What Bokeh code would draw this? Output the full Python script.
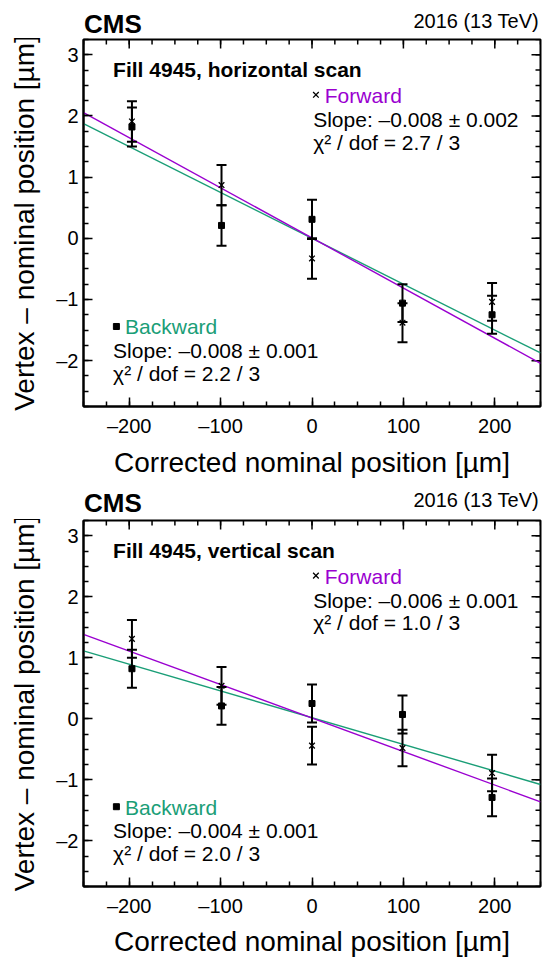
import numpy as np
from bokeh.plotting import figure
from bokeh.layouts import column
from bokeh.models import Label, Range1d, FixedTicker
from bokeh.embed import file_html
from bokeh.resources import INLINE

# ---------------- data ----------------
x_pos = [-197, -99, 0, 99, 197]
x_ticks = [-200, -100, 0, 100, 200]
x_tick_labels = ["–200", "–100", "0", "100", "200"]
y_ticks = [-2, -1, 0, 1, 2, 3]
y_tick_labels = ["–2", "–1", "0", "1", "2", "3"]

# horizontal scan
h_fwd = [1.91, 0.87, -0.33, -1.38, -1.04]
h_fwd_err = [0.33, 0.33, 0.33, 0.32, 0.31]
h_bwd = [1.82, 0.21, 0.31, -1.06, -1.25]
h_bwd_err = [0.32, 0.33, 0.32, 0.31, 0.31]
h_fit_fwd = [-0.0082, 0.006]   # slope, intercept
h_fit_bwd = [-0.0075, 0.0]

# vertical scan
v_fwd = [1.31, 0.54, -0.44, -0.48, -0.89]
v_fwd_err = [0.31, 0.31, 0.31, 0.30, 0.30]
v_bwd = [0.82, 0.21, 0.25, 0.07, -1.29]
v_bwd_err = [0.31, 0.31, 0.31, 0.31, 0.31]
v_fit_fwd = [-0.00549, 0.011]
v_fit_bwd = [-0.00438, 0.017]

h_texts = ["Fill 4945, horizontal scan", "Slope: –0.008 ± 0.002", "χ² / dof = 2.7 / 3",
           "Slope: –0.008 ± 0.001", "χ² / dof = 2.2 / 3"]
v_texts = ["Fill 4945, vertical scan", "Slope: –0.006 ± 0.001", "χ² / dof = 1.0 / 3",
           "Slope: –0.004 ± 0.001", "χ² / dof = 2.0 / 3"]
header_texts = ["CMS", "2016 (13 TeV)"]

FONT = "Liberation Sans"
PURPLE = "#9a00d0"
GREEN = "#1a9e77"
X0, X1 = -250, 250
Y0, Y1 = -2.75, 3.25
W = 542
PX_PER_Y = 61.6   # frame pixels per y unit (370 px / 6 units)


def add_text(p, x, y, text, size=21, color="black", bold=False, align="left", scale=PX_PER_Y):
    # y is the intended baseline; the text is drawn centred, so lift by ~0.35 em
    yc = y + 0.35 * size / scale
    p.add_layout(Label(x=x, y=yc, text=text, text_font=FONT, text_font_size=f"{size}px",
                       text_color=color, text_font_style="bold" if bold else "normal",
                       text_align=align, text_baseline="alphabetic"))


def errbars(p, x, y, e):
    x = np.array(x, dtype=float)
    y = np.array(y, dtype=float)
    e = np.array(e, dtype=float)
    p.segment(x0=x, y0=y - e, x1=x, y1=y + e, line_color="black", line_width=2)
    p.scatter(x=np.concatenate([x, x]), y=np.concatenate([y - e, y + e]), marker="dash",
              size=10, line_color="black", line_width=2)


def make_header(height, cms_base, energy_base):
    # the column aligns this frame with the panel frames below, so share the x range
    h = figure(width=W, height=height, x_range=Range1d(X0, X1), y_range=Range1d(0, height),
               title=None, output_backend="svg", toolbar_location=None,
               x_axis_location=None, y_axis_location=None,
               min_border=0, min_border_left=83, min_border_right=2,
               min_border_top=0, min_border_bottom=0)
    h.grid.visible = False
    h.outline_line_color = None
    add_text(h, X0 + 0.6, cms_base, header_texts[0], size=26, bold=True, scale=1.0)
    add_text(h, X1 - 1.6, energy_base, header_texts[1], size=20, align="right", scale=1.0)
    return h


def make_panel(texts, fwd, fwd_err, bwd, bwd_err, fit_fwd, fit_bwd, height, bottom, title_standoff):
    p = figure(width=W, height=height, x_range=Range1d(X0, X1), y_range=Range1d(Y0, Y1),
               title=None, output_backend="svg", toolbar_location=None,
               min_border_left=83, min_border_right=2, min_border_top=1, min_border_bottom=bottom,
               x_axis_label="Corrected nominal position [µm]",
               y_axis_label="Vertex – nominal position [µm]")
    p.grid.visible = False
    p.outline_line_color = "black"
    p.outline_line_width = 2
    p.background_fill_color = "white"
    p.border_fill_color = "white"

    x_minor = list(np.arange(-250, 251, 25))
    y_minor = list(np.arange(-2.75, 3.26, 0.25))
    p.xaxis.ticker = FixedTicker(ticks=x_ticks, minor_ticks=x_minor)
    p.xaxis.major_label_overrides = dict(zip(x_ticks, x_tick_labels))
    p.yaxis.ticker = FixedTicker(ticks=y_ticks, minor_ticks=y_minor)
    p.yaxis.major_label_overrides = dict(zip(y_ticks, y_tick_labels))
    for ax in p.axis:
        ax.major_tick_in = 9
        ax.major_tick_out = 0
        ax.minor_tick_in = 5
        ax.minor_tick_out = 0
        ax.axis_line_width = 2
        ax.major_tick_line_width = 1.5
        ax.minor_tick_line_width = 1.5
        ax.major_label_text_font = FONT
        ax.major_label_text_font_size = "20px"
        ax.major_label_text_color = "black"
        ax.axis_label_text_font = FONT
        ax.axis_label_text_font_size = "28px"
        ax.axis_label_text_font_style = "normal"
        ax.axis_label_text_color = "black"
    p.xaxis.major_label_standoff = 8
    p.xaxis.axis_label_standoff = title_standoff
    p.yaxis.major_label_standoff = 5
    p.yaxis.axis_label_standoff = 13

    # mirrored ticks on the top and right frame edges (half of each dash is clipped by the frame)
    p.scatter(x=x_ticks, y=[Y1] * len(x_ticks), marker="dash", angle=np.pi / 2, size=18,
              line_color="black", line_width=1.5)
    p.scatter(x=x_minor, y=[Y1] * len(x_minor), marker="dash", angle=np.pi / 2, size=10,
              line_color="black", line_width=1.5)
    p.scatter(x=[X1] * len(y_ticks), y=y_ticks, marker="dash", size=18,
              line_color="black", line_width=1.5)
    p.scatter(x=[X1] * len(y_minor), y=y_minor, marker="dash", size=10,
              line_color="black", line_width=1.5)

    # fit lines
    lx = np.array([X0, X1], dtype=float)
    p.line(lx, fit_bwd[0] * lx + fit_bwd[1], line_color=GREEN, line_width=1.4)
    p.line(lx, fit_fwd[0] * lx + fit_fwd[1], line_color=PURPLE, line_width=1.4)

    # error bars and points
    errbars(p, x_pos, fwd, fwd_err)
    errbars(p, x_pos, bwd, bwd_err)
    p.scatter(x_pos, fwd, marker="x", size=8, line_color="black", line_width=1.3)
    p.scatter(x_pos, bwd, marker="square", size=6, fill_color="black", line_color="black")

    # legend markers
    p.scatter([4.3], [2.346], marker="x", size=8, line_color="black", line_width=1.3)
    p.scatter([-214], [-1.442], marker="square", size=6, fill_color="black", line_color="black")

    # texts (y = baseline)
    add_text(p, -217.6, 2.633, texts[0], size=21, bold=True)
    add_text(p, 14, 2.211, "Forward", size=21, color=PURPLE)
    add_text(p, 1.3, 1.821, texts[1])
    add_text(p, 1.3, 1.453, texts[2])
    add_text(p, -204.5, -1.567, "Backward", size=21, color=GREEN)
    add_text(p, -217.6, -1.956, texts[3])
    add_text(p, -217.6, -2.334, texts[4])
    return p


# header 1: 0-38, panel 1: 38-480 (frame 39-409); header 2: 480-519, panel 2: 519-959 (frame 520-890)
h1 = make_header(38, 5.6, 11.0)
p1 = make_panel(h_texts, h_fwd, h_fwd_err, h_bwd, h_bwd_err, h_fit_fwd, h_fit_bwd, 442, 71, 7)
h2 = make_header(39, 7.0, 13.0)
p2 = make_panel(v_texts, v_fwd, v_fwd_err, v_bwd, v_bwd_err, v_fit_fwd, v_fit_bwd, 440, 69, 6)

layout = column(h1, p1, h2, p2, spacing=0)
open("out.html", "w").write(file_html(layout, INLINE))
